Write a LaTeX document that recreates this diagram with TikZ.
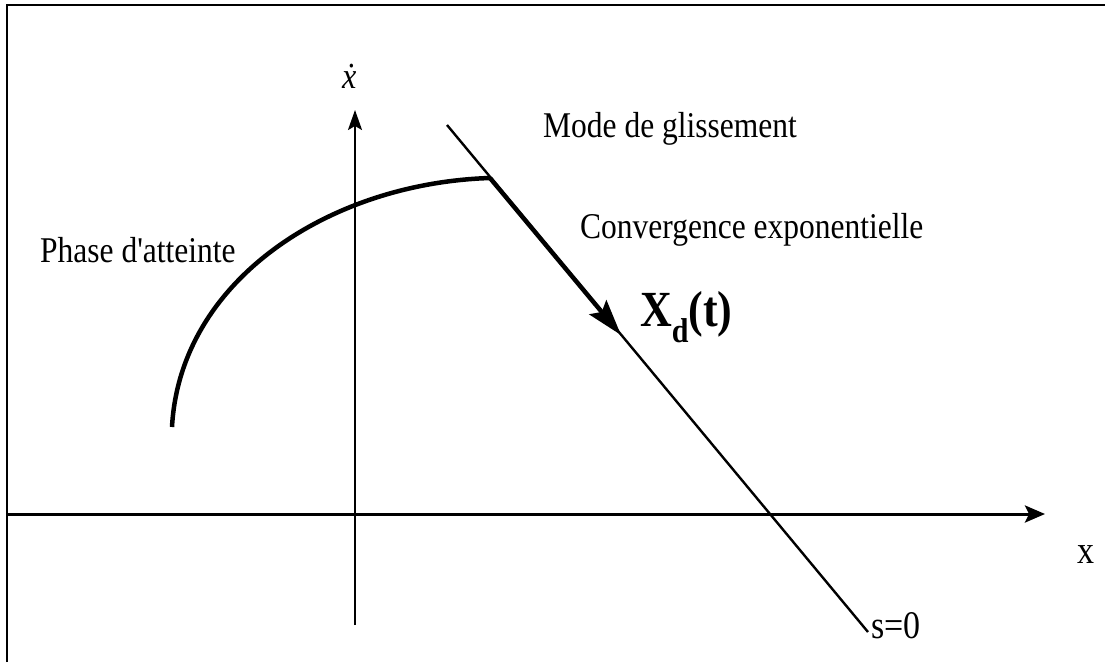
\documentclass[tikz,border=0pt]{standalone}
\usepackage{fontspec}
\setmainfont{Liberation Serif}
\usetikzlibrary{arrows.meta}
\tikzset{
  frame/.style={line width=2.5pt},
  axis/.style={line width=3pt,-{Stealth[length=20pt,width=17pt,inset=4pt]}},
  yaxis/.style={line width=2pt,-{Stealth[length=20pt,width=14pt,inset=4pt]}},
  surface/.style={line width=2.4pt},
  traj/.style={line width=4.5pt},
  trajarrow/.style={line width=4.5pt,-{Stealth[length=36pt,width=22pt,inset=6pt]}},
  lbl/.style={inner sep=0pt,anchor=base west,font=\fontsize{31.5}{31.5}\selectfont},
}
\newcommand{\vstretch}[1]{\scalebox{1}[1.15]{#1}}
\begin{document}
\begin{tikzpicture}[x=1pt,y=-1pt]
\useasboundingbox (0,0) rectangle (1105,662);
% frame (top and left edges)
\draw[frame] (7,662) -- (7,5) -- (1105,5);
% axes
\coordinate (xo) at (8,514);
\coordinate (xe) at (1045,514);
\coordinate (yo) at (355,625);
\coordinate (ye) at (355,110);
\draw[axis] (xo) -- (xe);
\draw[yaxis] (yo) -- (ye);
\node[lbl] (ydot) at (342,88) {\vstretch{\fontsize{32}{32}\selectfont\itshape\.x}};
\node[lbl] (xlab) at (1077,563) {\vstretch{\fontsize{34}{34}\selectfont x}};
% sliding surface s=0
\coordinate (s1) at (447,125);
\coordinate (s2) at (868,632);
\draw[surface] (s1) -- (s2);
\node[lbl] (slab) at (871,638) {\vstretch{\fontsize{34}{34}\selectfont s=0}};
% reaching phase trajectory
\coordinate (c0) at (172,427);
\coordinate (c1) at (490,178);
\coordinate (c2) at (621,335);
\draw[traj] (c0) .. controls (180,280) and (330,183) .. (c1);
\draw[trajarrow] (c1) -- (c2);
% labels
\node[lbl] (mode) at (543,137) {\vstretch{Mode de glissement}};
\node[lbl] (conv) at (580,238) {\vstretch{Convergence exponentielle}};
\node[lbl] (phase) at (40,262) {\vstretch{Phase d\textquotesingle atteinte}};
\node[lbl] (xd) at (640,326) {\vstretch{\bfseries\fontsize{44}{44}\selectfont X\raisebox{-0.32em}{\fontsize{30}{30}\selectfont d}(t)}};
\end{tikzpicture}
\end{document}
